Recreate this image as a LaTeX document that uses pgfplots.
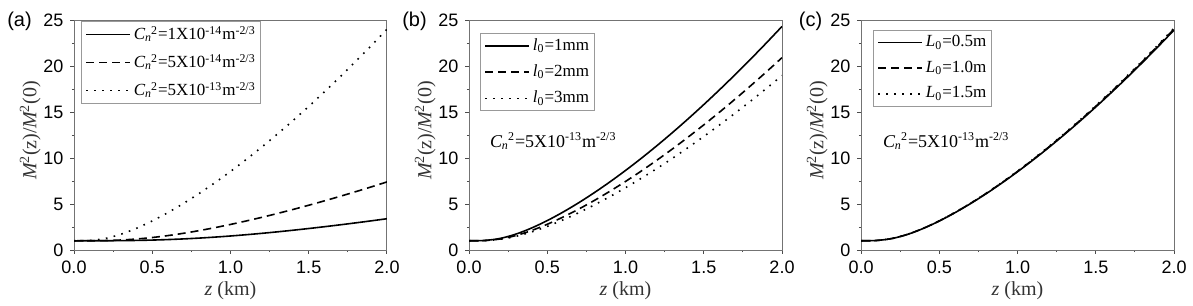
\documentclass[border=0pt]{standalone}
\usepackage{fontspec}
\setmainfont{Liberation Serif}
\setsansfont{Liberation Sans}
\usepackage{pgfplots}
\usepackage{pgfplotstable}
\pgfplotsset{compat=1.18}

\newcommand{\Cn}{\textit{C}\kern-0.02em\textsubscript{\textit{n}}\kern-0.05em\textsuperscript{2}}

\pgfplotstableread{
z a1 a2 a3
0 1 1 1
0.1 1.0007 1.0034 1.0353
0.2 1.0053 1.0265 1.2551
0.3 1.0177 1.0869 1.7150
0.4 1.0414 1.1959 2.3668
0.5 1.0794 1.3565 3.1603
0.6 1.1336 1.5657 4.0658
0.7 1.2053 1.8180 5.0657
0.8 1.2945 2.1073 6.1492
0.9 1.4008 2.4287 7.3086
1.0 1.5232 2.7785 8.5381
1.1 1.6604 3.1535 9.8336
1.2 1.8113 3.5514 11.1912
1.3 1.9749 3.9704 12.6081
1.4 2.1499 4.4090 14.0817
1.5 2.3356 4.8662 15.6097
1.6 2.5311 5.3409 17.1902
1.7 2.7359 5.8322 18.8214
1.8 2.9493 6.3396 20.5017
1.9 3.1708 6.8624 22.2297
2.0 3.4000 7.4000 24.0042
}\tabA

\pgfplotstableread{
z b1 b2 b3
0 1 1 1
0.1 1.0362 1.0269 1.0222
0.2 1.2608 1.1983 1.1655
0.3 1.7291 1.5721 1.4865
0.4 2.3910 2.1185 1.9665
0.5 3.1957 2.7951 2.5690
0.6 4.1133 3.5738 3.2675
0.7 5.1263 4.4378 4.0456
0.8 6.2237 5.3763 4.8926
0.9 7.3978 6.3821 5.8017
1.0 8.6429 7.4498 6.7676
1.1 9.9546 8.5755 7.7864
1.2 11.3293 9.7558 8.8552
1.3 12.7640 10.9880 9.9712
1.4 14.2560 12.2698 11.1325
1.5 15.8031 13.5992 12.3369
1.6 17.4033 14.9744 13.5831
1.7 19.0549 16.3938 14.8695
1.8 20.7562 17.8562 16.1949
1.9 22.5057 19.3602 17.5580
2.0 24.3023 20.9045 18.9578
}\tabB

\pgfplotstableread{
z c1 c2 c3
0 1 1 1
0.1 1.0351 1.0354 1.0357
0.2 1.2532 1.2554 1.2573
0.3 1.7103 1.7158 1.7205
0.4 2.3586 2.3681 2.3762
0.5 3.1484 3.1623 3.1741
0.6 4.0498 4.0684 4.0843
0.7 5.0454 5.0691 5.0894
0.8 6.1242 6.1534 6.1783
0.9 7.2786 7.3135 7.3434
1.0 8.5029 8.5440 8.5790
1.1 9.7929 9.8403 9.8808
1.2 11.1448 11.1989 11.2451
1.3 12.5557 12.6168 12.6690
1.4 14.0231 14.0914 14.1497
1.5 15.5447 15.6205 15.6852
1.6 17.1185 17.2021 17.2734
1.7 18.7429 18.8344 18.9125
1.8 20.4162 20.5160 20.6011
1.9 22.1370 22.2452 22.3375
2.0 23.9040 24.0208 24.1206
}\tabC

\pgfplotsset{
  myax/.style={
    scale only axis, width=156.5pt, height=115pt,
    xmin=0, xmax=2, ymin=0, ymax=25,
    xtick={0,0.5,1,1.5,2}, ytick={0,5,10,15,20,25},
    minor x tick num=1, minor y tick num=1,
    tick align=outside, xtick pos=bottom, ytick pos=left,
    major tick length=1.8pt, minor tick length=1.1pt,
    axis line style={black!55, line width=0.5pt},
    every tick/.style={black!70, line width=0.5pt},
    /pgf/number format/assume math mode=true,
    xticklabel style={/pgf/number format/fixed, /pgf/number format/fixed zerofill, /pgf/number format/precision=1},
    ticklabel style={font=\fontsize{9}{10}\selectfont\sffamily, text=black},
    xlabel={\textit{z} (km)},
    ylabel={\textit{M}\kern-0.08em\textsuperscript{2}(z)/\textit{M}\kern-0.08em\textsuperscript{2}(0)},
    label style={font=\fontsize{10}{12}\selectfont, text=black!80},
    xlabel style={at={(axis description cs:0.5,-0.178)}, anchor=center},
    ylabel style={at={(axis description cs:-0.14,0.52)}, anchor=center},
    legend style={draw=black!40, line width=0.4pt, font=\fontsize{8.5}{10}\selectfont,
      anchor=north west, inner sep=2pt, row sep=4.7pt, column sep=1pt,
      nodes={inner sep=0.5pt}, cells={anchor=west}},
    legend image code/.code={\draw[##1] (0pt,0pt) -- (22pt,0pt);},
    legend cell align=left,
  },
  solidl/.style={black, line width=0.8pt},
  dashl/.style={black, line width=0.8pt, dash pattern=on 4pt off 2.5pt},
  dotl/.style={black, line width=0.8pt, dash pattern=on 0.8pt off 3.2pt},
}

\begin{document}
\begin{tikzpicture}
\useasboundingbox (0,0) rectangle (596.5pt,152.5pt);

\node[font=\fontsize{10}{12}\selectfont\sffamily] at (9.75pt,142pt) {(a)};
\node[font=\fontsize{10}{12}\selectfont\sffamily] at (207.25pt,142pt) {(b)};
\node[font=\fontsize{10}{12}\selectfont\sffamily] at (405.25pt,142pt) {(c)};

\begin{axis}[myax, at={(37pt,27.5pt)}, anchor=south west,
  legend style={at={(axis description cs:0.022,0.996)}}]
\addplot[solidl, smooth] table[x=z, y=a1] {\tabA};
\addlegendentry{\Cn=1X10\textsuperscript{-14}m\textsuperscript{-2/3}}
\addplot[dashl, smooth] table[x=z, y=a2] {\tabA};
\addlegendentry{\Cn=5X10\textsuperscript{-14}m\textsuperscript{-2/3}}
\addplot[dotl, smooth] table[x=z, y=a3] {\tabA};
\addlegendentry{\Cn=5X10\textsuperscript{-13}m\textsuperscript{-2/3}}
\end{axis}

\begin{axis}[myax, at={(234.5pt,27.5pt)}, anchor=south west,
  legend style={at={(axis description cs:0.035,0.943)}}]
\addplot[solidl, smooth] table[x=z, y=b1] {\tabB};
\addlegendentry{\textit{l}\textsubscript{0}=1mm}
\addplot[dashl, smooth] table[x=z, y=b2] {\tabB};
\addlegendentry{\textit{l}\textsubscript{0}=2mm}
\addplot[dotl, smooth] table[x=z, y=b3] {\tabB};
\addlegendentry{\textit{l}\textsubscript{0}=3mm}
\node[anchor=west, font=\fontsize{9}{10}\selectfont] at (axis description cs:0.045,0.474) {\Cn=5X10\textsuperscript{-13}m\textsuperscript{-2/3}};
\end{axis}

\begin{axis}[myax, at={(430.5pt,27.5pt)}, anchor=south west,
  legend style={at={(axis description cs:0.038,0.957)}}]
\addplot[solidl, smooth] table[x=z, y=c1] {\tabC};
\addlegendentry{\textit{L}\textsubscript{0}=0.5m}
\addplot[dashl, smooth] table[x=z, y=c2] {\tabC};
\addlegendentry{\textit{L}\textsubscript{0}=1.0m}
\addplot[dotl, smooth] table[x=z, y=c3] {\tabC};
\addlegendentry{\textit{L}\textsubscript{0}=1.5m}
\node[anchor=west, font=\fontsize{9}{10}\selectfont] at (axis description cs:0.048,0.474) {\Cn=5X10\textsuperscript{-13}m\textsuperscript{-2/3}};
\end{axis}
\end{tikzpicture}
\end{document}
